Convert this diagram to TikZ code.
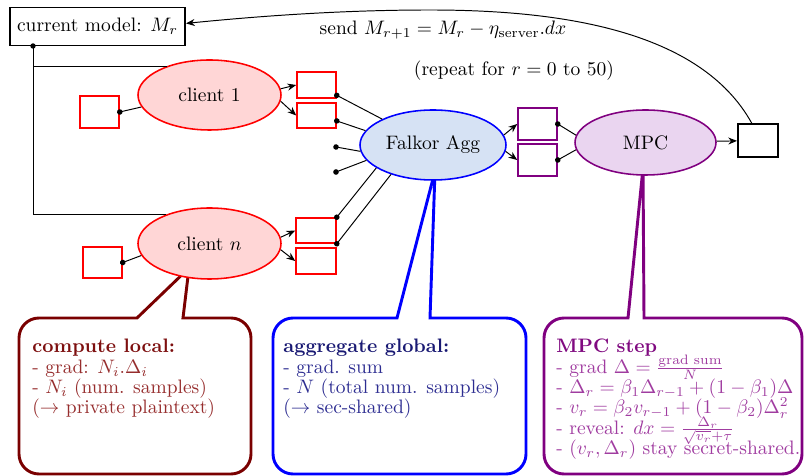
\documentclass[tikz,border=0pt]{standalone}
\usepackage{amsmath}
\usetikzlibrary{shapes.geometric,arrows.meta,calc}

% one drawing unit
\newdimen\upx \upx=0.5128pt

% compact line spacing for the callout texts
\newcommand\tightlines{\setlength\baselineskip{10.4pt}%
  \setlength\lineskiplimit{-20pt}\setlength\lineskip{0pt}}

\definecolor{clientfill}{RGB}{255,214,214}
\definecolor{aggfill}{RGB}{214,226,244}
\definecolor{mpcfill}{RGB}{234,213,240}
\definecolor{darkred}{RGB}{122,0,0}
\definecolor{redtitle}{RGB}{125,15,15}
\definecolor{redtext}{RGB}{150,45,45}
\definecolor{bluetitle}{RGB}{25,25,115}
\definecolor{bluetext}{RGB}{45,45,145}
\definecolor{mpcpurple}{RGB}{128,0,128}
\definecolor{purpletitle}{RGB}{128,10,128}
\definecolor{purpletext}{RGB}{160,60,160}

\begin{document}
\begin{tikzpicture}[x=0.5128pt,y=0.5128pt,
  >={Stealth[length=4.5pt,width=3.6pt]},
  conn/.style={line width=0.5pt},
  dotstart/.style={{Circle[length=2.8pt]}-, shorten <=-1.4pt},
  clientell/.style={ellipse, draw=red, fill=clientfill, line width=0.8pt,
    minimum width=143\upx, minimum height=70\upx, inner sep=0pt},
  redbox/.style={rectangle, draw=red, line width=0.8pt,
    minimum width=39\upx, minimum height=26\upx, inner sep=0pt},
  purplebox/.style={rectangle, draw=mpcpurple, line width=0.8pt,
    minimum width=39\upx, minimum height=32\upx, inner sep=0pt},
  calloutline/.style={line width=1.5pt, line join=miter},
  callouttext/.style={anchor=north west, inner sep=0pt, align=left,
    font=\tightlines},
]
\useasboundingbox (0,0) rectangle (804,476);

% callout outlines (pointers run under the ellipses)
\def\callout#1#2#3#4#5#6{%
  \draw[calloutline,draw=#1] (#4,158) -- (#3-20,158)
    arc[start angle=90,end angle=0,radius=20] -- (#3,22)
    arc[start angle=0,end angle=-90,radius=20] -- (#2+20,2)
    arc[start angle=270,end angle=180,radius=20] -- (#2,138)
    arc[start angle=180,end angle=90,radius=20] -- (#5,158) -- (#6) -- cycle;}
\coordinate (tipc) at (189,208);
\coordinate (tipa) at (435,305);
\coordinate (tipm) at (643,308);
\callout{darkred}{19}{251}{183}{137}{tipc}
\callout{blue}{273}{526}{430}{397}{tipa}
\callout{mpcpurple}{544}{802}{644}{628}{tipm}

% callout texts
\node[callouttext, text=redtext] (loctext) at (32,137)
  {\textcolor{redtitle}{\textbf{compute local:}}\\
   - grad: $N_i.\Delta_i$\\
   - $N_i$ (num. samples)\\
   ($\rightarrow$ private plaintext)};
\node[callouttext, text=bluetext] (aggtext) at (283,137)
  {\textcolor{bluetitle}{\textbf{aggregate global:}}\\
   - grad. sum\\
   - $N$ (total num. samples)\\
   ($\rightarrow$ sec-shared)};
\node[callouttext, text=purpletext] (mpctext) at (556,137)
  {\textcolor{purpletitle}{\textbf{MPC step}}\\
   - grad $\Delta=\frac{\text{grad sum}}{N}$\\
   - $\Delta_r=\beta_1\Delta_{r-1}+(1-\beta_1)\Delta$\\
   - $v_r=\beta_2v_{r-1}+(1-\beta_2)\Delta_r^2$\\
   - reveal: $dx=\frac{\Delta_r}{\sqrt{v_r}+\tau}$\\
   - $(v_r,\Delta_r)$ stay secret-shared.};

% model box
\node[draw, line width=1pt, minimum width=175\upx, minimum height=38\upx, inner sep=0pt]
  (cm) at (97.5,449.5) {current model: $M_r$};
\coordinate (md) at (33,430);

% clients
\node[clientell] (c1) at (209.5,381) {client 1};
\node[clientell, minimum height=71\upx] (cn) at (209.5,232.5) {client $n$};

\node[redbox, minimum height=32\upx] (c1s) at (99.5,364) {};
\node[redbox, minimum height=31\upx] (cns) at (102.5,213.5) {};

\node[redbox] (c1a) at (316.5,391) {};
\node[redbox, minimum height=25\upx] (c1b) at (316.5,360.5) {};
\node[redbox, minimum width=40\upx, minimum height=25\upx] (cna) at (316,245.5) {};
\node[redbox, minimum width=40\upx] (cnb) at (316,215) {};

% aggregator and MPC
\node[ellipse, draw=blue, fill=aggfill, line width=0.8pt, minimum width=146\upx,
  minimum height=70\upx, inner sep=0pt] (agg) at (433,331) {Falkor Agg};
\node[purplebox] (p1) at (537.5,352) {};
\node[purplebox] (p2) at (537.5,316) {};
\node[ellipse, draw=mpcpurple, fill=mpcfill, line width=0.8pt, minimum width=141\upx,
  minimum height=65\upx, inner sep=0pt] (mpc) at (645.5,333.5) {MPC};
\node[draw, line width=1pt, minimum width=40\upx, minimum height=33\upx, inner sep=0pt]
  (ob) at (758,335.5) {};

\coordinate (fa) at (336,329);
\coordinate (fb) at (336,304);

% model distribution
\draw[conn] (md) |- (c1.146);
\draw[conn] (md) |- (cn.146);
\fill (md) circle[radius=2.7];

% local inputs
\draw[conn, dotstart] (c1s.east) -- (c1.190);
\draw[conn, dotstart] (cns.east) -- (cn.190);

% client outputs
\draw[conn, ->] (c1.5) -- (c1a.west);
\draw[conn, ->] (c1.-5) -- (c1b.west);
\draw[conn, ->] (cn.5) -- (cna.west);
\draw[conn, ->] (cn.-5) -- (cnb.west);

% shares into the aggregator
\draw[conn, dotstart] (c1a.-27) -- (agg.153);
\draw[conn, dotstart] (c1b.-15) -- (agg.168);
\draw[conn, dotstart] (fa) -- (agg.185);
\draw[conn, dotstart] (fb) -- (agg.193);
\draw[conn, dotstart] (cna.north east) -- (agg.202);
\draw[conn, dotstart] (cna.south east) -- (agg.215);

% aggregator to MPC
\draw[conn, ->] (agg.8) -- (p1.west);
\draw[conn, ->] (agg.-5) -- (p2.west);
\draw[conn, dotstart] (p1.east) -- (mpc.174);
\draw[conn, dotstart] (p2.east) -- (mpc.186);
\draw[conn, ->] (mpc) -- (ob);

% model update
\draw[conn, ->] (ob.110) .. controls (700,446) and (560,466) .. (430,466)
  .. controls (350,466) and (270,461) .. (cm.2);
\node (sendlbl) at (443,446) {send $M_{r+1}=M_r-\eta_{\text{server}}.dx$};
\node (replbl) at (514,405) {(repeat for $r=0$ to $50$)};
\end{tikzpicture}
\end{document}
